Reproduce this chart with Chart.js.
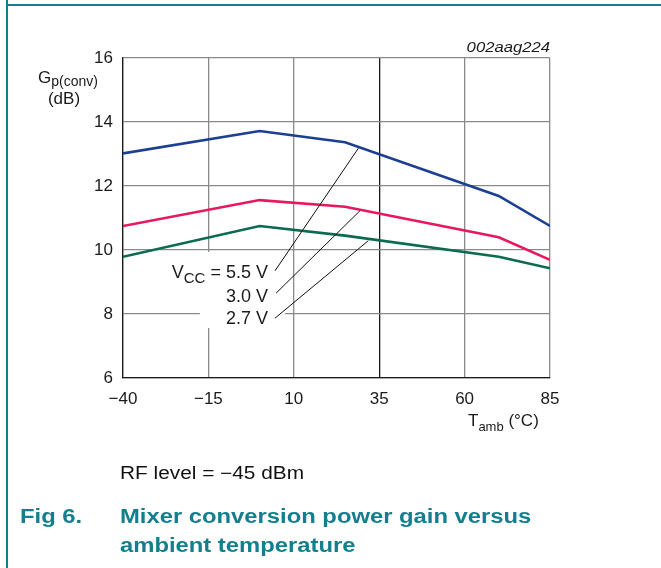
<!DOCTYPE html>
<html>
<head>
<meta charset="utf-8">
<script src="https://cdn.jsdelivr.net/npm/chart.js@4/dist/chart.umd.min.js"></script>
<style>
  html,body{margin:0;padding:0;background:#fff;}
  body{position:relative;width:661px;height:568px;overflow:hidden;font-family:"Liberation Sans",Arial,sans-serif;}
  #chart{position:absolute;left:0;top:0;}
  .frame-v{position:absolute;left:6px;top:0;width:2px;height:568px;background:#137f8e;}
  .frame-h{position:absolute;left:6px;top:4px;width:655px;height:2px;background:#137f8e;}
  .txt{position:absolute;white-space:nowrap;transform-origin:0 0;transform:scaleX(1.19);}
  .rf{left:120px;top:465px;font-size:17.5px;line-height:17.5px;color:#111;}
  .fig{font-size:20px;line-height:20px;font-weight:bold;color:#137f8e;}
</style>
</head>
<body>
<canvas id="chart" width="661" height="568"></canvas>
<div class="frame-v"></div>
<div class="frame-h"></div>
<div class="txt rf">RF level = &minus;45 dBm</div>
<div class="txt fig" style="left:20px;top:506px;">Fig 6.</div>
<div class="txt fig" style="left:120px;top:506px;">Mixer conversion power gain versus</div>
<div class="txt fig" style="left:120px;top:535px;">ambient temperature</div>
<script>
// ---- data ----
const TEMPS     = [-40, 0, 25, 70, 85];
const GAIN_5V5  = [13.02, 13.72, 13.37, 11.69, 10.75];
const GAIN_3V0  = [10.75, 11.56, 11.35, 10.40, 9.69];
const GAIN_2V7  = [9.79, 10.75, 10.45, 9.79, 9.43];
const X_TICKS   = [-40, -15, 10, 35, 60, 85];
const Y_TICKS   = [6, 8, 10, 12, 14, 16];
const SERIES_LABELS = ['5.5 V', '3.0 V', '2.7 V'];

const COLORS = { v55:'#1c3f94', v30:'#e8185d', v27:'#0b6b4f', grid:'#8a8a8a', dark:'#1a1a1a', text:'#1a1a1a' };
const FONT = '"Liberation Sans", Arial, sans-serif';

// leader lines: [label end (x,y), curve point (x,y)] in data units
const LEADERS = [
  [[4.5, 9.35], [28.9, 13.18]],
  [[4.8, 8.65], [29.4, 11.23]],
  [[4.5, 7.87], [31.8, 10.29]]
];
// area kept clear behind the labels (data units)
const LABEL_BOX = { x0:-17.5, x1:7.4, y0:7.56, y1:9.94 };

function pts(ys){ return TEMPS.map((t,i)=>({x:t, y:ys[i]})); }
function minus(v){ return v < 0 ? '\u2212' + Math.abs(v) : String(v); }

function textWithSub(ctx, main, sub, x, y, size, subSize, drop){
  ctx.font = size + 'px ' + FONT;
  ctx.fillText(main, x, y);
  const w = ctx.measureText(main).width;
  ctx.font = subSize + 'px ' + FONT;
  ctx.fillText(sub, x + w, y + drop);
  return w + ctx.measureText(sub).width;
}

const overlay = {
  id:'overlay',
  afterDraw(chart){
    const ctx = chart.ctx, xs = chart.scales.x, ys = chart.scales.y;
    ctx.save();
    ctx.fillStyle = COLORS.text;
    ctx.textBaseline = 'alphabetic';
    ctx.textAlign = 'left';

    // y axis title
    textWithSub(ctx, 'G', 'p(conv)', 38, 83, 17, 14, 3);
    ctx.font = '17px ' + FONT;
    ctx.textAlign = 'center';
    ctx.fillText('(dB)', 64, 104);

    // x axis title
    ctx.textAlign = 'left';
    ctx.font = '17px ' + FONT;
    let x = 468;
    ctx.fillText('T', x, 426); x += ctx.measureText('T').width;
    ctx.font = '13px ' + FONT;
    ctx.fillText('amb', x, 431); x += ctx.measureText('amb').width;
    ctx.font = '17px ' + FONT;
    ctx.fillText(' (\u00b0C)', x, 426);

    // figure code
    ctx.save();
    ctx.font = 'italic 14px ' + FONT;
    ctx.textAlign = 'right';
    ctx.translate(550, 52); ctx.scale(1.19, 1);
    ctx.fillText('002aag224', 0, 0);
    ctx.restore();

    // clear box behind labels
    ctx.fillStyle = '#fff';
    const bx0 = xs.getPixelForValue(LABEL_BOX.x0), bx1 = xs.getPixelForValue(LABEL_BOX.x1);
    const by0 = ys.getPixelForValue(LABEL_BOX.y1), by1 = ys.getPixelForValue(LABEL_BOX.y0);
    ctx.fillRect(bx0, by0, bx1 - bx0, by1 - by0);
    ctx.fillRect(164, 261, 112, 25);

    // labels
    ctx.fillStyle = COLORS.text;
    ctx.textAlign = 'right';
    ctx.font = '18px ' + FONT;
    const right = 268;
    const rest = ' = ' + SERIES_LABELS[0];
    ctx.fillText(rest, right, 278);
    const rw = ctx.measureText(rest).width;
    ctx.font = '15px ' + FONT;
    ctx.fillText('CC', right - rw, 283);
    const cw = ctx.measureText('CC').width;
    ctx.font = '18px ' + FONT;
    ctx.fillText('V', right - rw - cw, 278);
    ctx.fillText(SERIES_LABELS[1], right, 302);
    ctx.fillText(SERIES_LABELS[2], right, 324);

    // leader lines
    ctx.strokeStyle = '#111';
    ctx.lineWidth = 1;
    LEADERS.forEach(([a,b])=>{
      ctx.beginPath();
      ctx.moveTo(xs.getPixelForValue(a[0]), ys.getPixelForValue(a[1]));
      ctx.lineTo(xs.getPixelForValue(b[0]), ys.getPixelForValue(b[1]));
      ctx.stroke();
    });
    ctx.restore();
  }
};

new Chart(document.getElementById('chart'), {
  type:'line',
  data:{
    datasets:[
      { label:'VCC = 5.5 V', data:pts(GAIN_5V5), borderColor:COLORS.v55 },
      { label:'3.0 V', data:pts(GAIN_3V0), borderColor:COLORS.v30 },
      { label:'2.7 V', data:pts(GAIN_2V7), borderColor:COLORS.v27 }
    ]
  },
  options:{
    responsive:false, animation:false, devicePixelRatio:1,
    elements:{ line:{ borderWidth:2.6, tension:0, fill:false }, point:{ radius:0 } },
    layout:{ padding:{ left:0, top:58, right:111, bottom:0 } },
    plugins:{ legend:{ display:false }, tooltip:{ enabled:false } },
    scales:{
      x:{
        type:'linear', min:-40, max:85,
        afterBuildTicks(s){ s.ticks = X_TICKS.map(v=>({value:v})); },
        afterFit(s){ s.height = 190; },
        grid:{ drawTicks:false, lineWidth:1.3, color:c=> c.tick && c.tick.value === 35 ? COLORS.dark : COLORS.grid },
        border:{ display:true, color:COLORS.dark, width:1.3 },
        ticks:{ padding:11, color:COLORS.text, font:{ family:FONT, size:17 }, maxRotation:0, callback:v=>minus(v) }
      },
      y:{
        type:'linear', min:6, max:16,
        afterBuildTicks(s){ s.ticks = Y_TICKS.map(v=>({value:v})); },
        afterFit(s){ s.width = 123; },
        grid:{ drawTicks:false, lineWidth:1.3, color:COLORS.grid },
        border:{ display:true, color:COLORS.dark, width:1.3 },
        ticks:{ padding:10, color:COLORS.text, font:{ family:FONT, size:17 }, callback:v=>minus(v) }
      }
    }
  },
  plugins:[overlay]
});
</script>
</body>
</html>
